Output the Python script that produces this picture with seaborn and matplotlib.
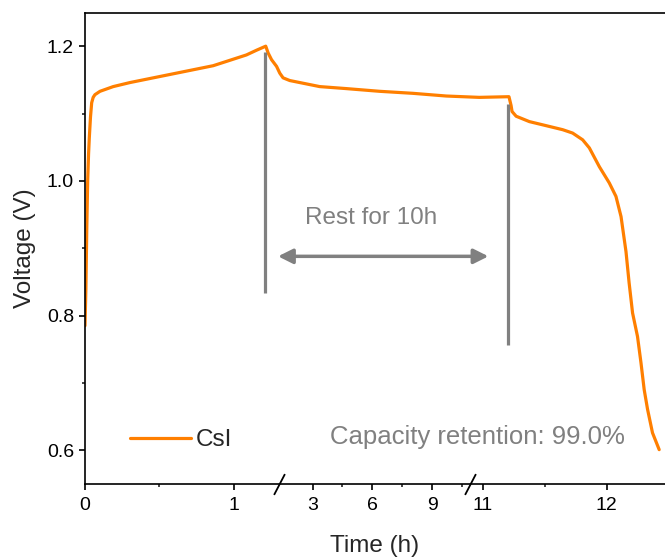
import numpy as np
import pandas as pd
import matplotlib
matplotlib.use("Agg")
import matplotlib.pyplot as plt
import seaborn as sns

# ---------------- data ----------------
charge_time = [0.0, 0.006, 0.012, 0.018, 0.024, 0.029, 0.037, 0.045, 0.055, 0.067,
               0.101, 0.190, 0.303, 0.415, 0.527, 0.639, 0.751, 0.863, 0.975,
               1.087, 1.155, 1.217]
charge_voltage = [0.785, 0.84, 0.93, 1.00, 1.04, 1.064, 1.095, 1.116, 1.124, 1.128,
                  1.133, 1.140, 1.146, 1.151, 1.156, 1.161, 1.166, 1.171, 1.179,
                  1.187, 1.194, 1.200]
rest_time = [1.233, 1.256, 1.290, 1.36, 1.525, 1.86, 2.36, 2.86, 3.36, 4.7, 6.36,
             8.03, 9.7, 10.97, 11.21]
rest_voltage = [1.190, 1.180, 1.170, 1.160, 1.153, 1.149, 1.146, 1.143, 1.140,
                1.137, 1.133, 1.130, 1.126, 1.124, 1.125]
discharge_time = [11.227, 11.235, 11.268, 11.375, 11.51, 11.644, 11.724, 11.805,
                  11.859, 11.94, 12.02, 12.074, 12.115, 12.155, 12.18, 12.208,
                  12.248, 12.276, 12.302, 12.329, 12.369, 12.423]
discharge_voltage = [1.112, 1.103, 1.096, 1.088, 1.082, 1.076, 1.071, 1.061,
                     1.049, 1.021, 0.997, 0.977, 0.947, 0.895, 0.849, 0.804,
                     0.769, 0.730, 0.690, 0.661, 0.626, 0.601]

series_label = "CsI"
x_ticks = [0, 1, 3, 6, 9, 11, 12]
x_minor = [0.5, 4.5, 7.5, 10.5, 11.5]
y_ticks = [0.6, 0.8, 1.0, 1.2]
y_minor = [0.7, 0.9, 1.1]
rest_text = "Rest for 10h"
retention_text = "Capacity retention: 99.0%"
charge_end = 1.215
rest_end = 11.206
breaks = [1.304, 10.897]

df = pd.DataFrame({
    "Time": charge_time + rest_time + discharge_time,
    "Voltage": charge_voltage + rest_voltage + discharge_voltage,
})

# ---------------- style ----------------
sns.set_style("ticks")
plt.rcParams["font.family"] = ["Liberation Sans", "DejaVu Sans"]

ORANGE = "#FF7F00"
GREY = "#808080"
TXT = 17.5

fig = plt.figure(figsize=(6.65, 5.6), dpi=100)
ax = fig.add_axes([85 / 665, 76 / 560, 580 / 665, 471.5 / 560])

# piecewise linear (broken) time axis
T_K = np.array([-1.0, 0.0, 1.304, 10.897, 14.0])
U_K = np.array([-148.7, 0.0, 193.9, 385.7, 385.7 + 124 * 3.103])


def fwd(t):
    return np.interp(t, T_K, U_K)


def inv(u):
    return np.interp(u, U_K, T_K)


ax.set_xscale("function", functions=(fwd, inv))

sns.lineplot(data=df, x="Time", y="Voltage", ax=ax, color=ORANGE, lw=2.3,
             label=series_label, estimator=None, sort=False)

ax.set_xlim(0, 12.47)
ax.set_ylim(0.55, 1.25)

ax.set_xticks(x_ticks)
ax.set_xticklabels([str(v) for v in x_ticks])
ax.set_xticks(x_minor, minor=True)
ax.set_yticks(y_ticks)
ax.set_yticklabels([f"{v:.1f}" for v in y_ticks])
ax.set_yticks(y_minor, minor=True)

for s in ["left", "bottom", "top"]:
    ax.spines[s].set_linewidth(1.2)
    ax.spines[s].set_color("black")
ax.spines["right"].set_visible(False)

ax.tick_params(axis="both", which="major", direction="out", length=4.5, width=1.2,
               labelsize=14, colors="black", top=False, right=False)
ax.tick_params(axis="x", which="major", pad=5)
ax.tick_params(axis="both", which="minor", direction="out", length=2.5, width=1.2,
               top=False, right=False)

ax.set_xlabel("Time (h)", fontsize=TXT, labelpad=15)
ax.set_ylabel("Voltage (V)", fontsize=TXT, labelpad=8)

# break marks
for b in breaks:
    ax.plot([b], [0], transform=ax.get_xaxis_transform(),
            marker=[(-0.52, -1), (0.52, 1)], markersize=15, mec="black",
            mew=1.3, clip_on=False, ls="none")

# rest markers
ax.vlines(charge_end, 0.833, 1.191, color=GREY, lw=2.3)
ax.vlines(rest_end, 0.757, 1.1145, color=GREY, lw=2.3)
ax.annotate("", xy=(1.30, 0.888), xytext=(11.044, 0.888),
            arrowprops=dict(arrowstyle="<|-|>", color=GREY, lw=2.5,
                            mutation_scale=22, shrinkA=0, shrinkB=0))
ax.text(5.96, 0.945, rest_text, color=GREY, fontsize=TXT, ha="center", va="center")
ax.text(3.86, 0.620, retention_text, color=GREY, fontsize=18.5, ha="left", va="center")

leg = ax.legend(loc="center left", bbox_to_anchor=(0.0776, 0.0933), frameon=False,
                fontsize=TXT, handlelength=2.5, handletextpad=0.2, borderpad=0,
                borderaxespad=0)

fig.savefig("out.png", dpi=100)
